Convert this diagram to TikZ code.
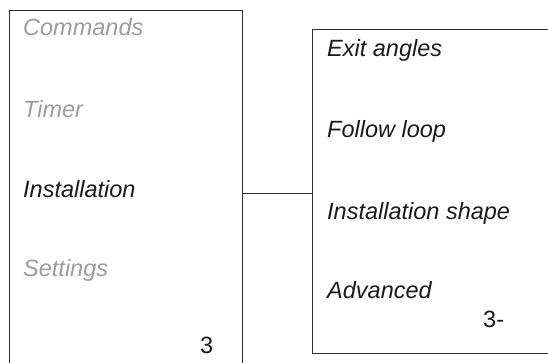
\documentclass[tikz,border=0pt]{standalone}
\usepackage{fontspec}
\setmainfont{Liberation Sans}
\usetikzlibrary{positioning}
\definecolor{framegray}{HTML}{2E2E2E}
\definecolor{dimgray}{HTML}{9C9C9C}
\definecolor{textblack}{HTML}{1A1A1A}

\begin{document}
\begin{tikzpicture}[x=1pt,y=-1pt,
  panel/.style={draw=framegray,line width=1pt,rectangle,inner sep=0pt},
  item/.style={font=\fontsize{23.5}{28}\selectfont\itshape,anchor=base west,inner sep=0pt},
  off/.style={item,text=dimgray},
  on/.style={item,text=textblack},
  num/.style={font=\fontsize{23.5}{28}\selectfont,anchor=base west,inner sep=0pt,text=textblack},
  lk/.style={framegray,line width=1pt}]
\clip (0,0) rectangle (548,362);
% ---------- panels ----------
\node[panel,minimum width=233pt,minimum height=380pt] (menu) at (126,200) {};
\node[panel,minimum width=260pt,minimum height=324pt] (submenu) at (442,191) {};
% ---------- main menu ----------
\node[off] (cmd) at (23,35) {Commands};
\node[off] (tmr) at (23,117) {Timer};
\node[on] (inst) at (23,197) {Installation};
\node[off] (sett) at (23,276) {Settings};
\node[num] (pg) at (200,353) {3};
% ---------- sub menu ----------
\node[on] (exit) at (327,56) {Exit angles};
\node[on] (loop) at (327,137) {Follow loop};
\node[on] (shape) at (327,219) {Installation shape};
\node[on] (adv) at (327,298) {Advanced};
\node[num] (subpg) at (483,327) {3-};
% ---------- link ----------
\coordinate (link) at (0,193);
\draw[lk] (menu.east |- link) -- (submenu.west |- link);
\end{tikzpicture}
\end{document}
